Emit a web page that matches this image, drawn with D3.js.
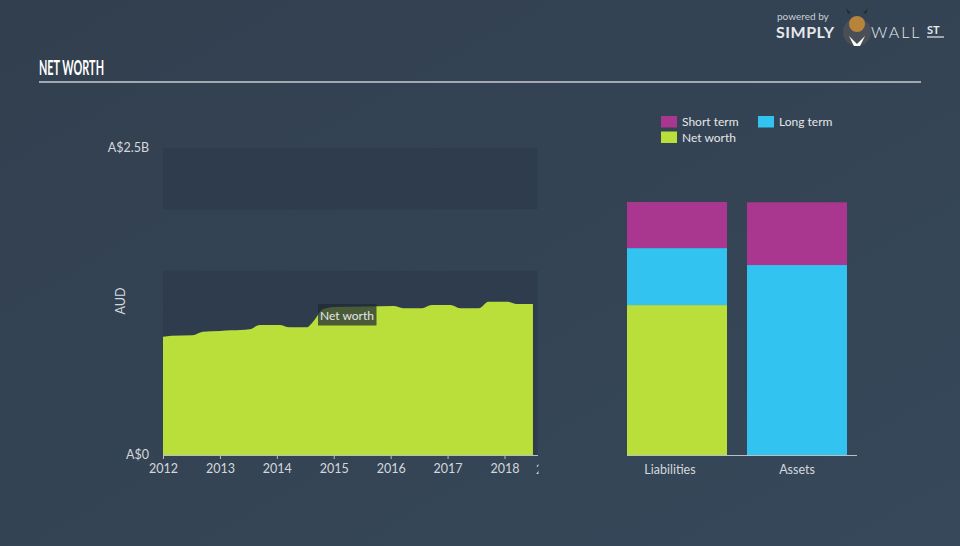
<!DOCTYPE html>
<html><head><meta charset="utf-8">
<script src="https://cdn.jsdelivr.net/npm/d3@7/dist/d3.min.js"></script>
<style>
html,body{margin:0;padding:0;background:#344456;}
svg{display:block;}
text{font-family:"Lato","Open Sans",sans-serif;}
</style></head>
<body>
<script>
// ---------- DATA ----------
const title = "NET WORTH";
const years = [2012.00,2012.15,2012.52,2012.70,2013.00,2013.20,2013.52,2013.70,2014.05,2014.22,2014.52,2014.66,2014.80,2015.00,2015.60,2016.05,2016.22,2016.55,2016.72,2017.05,2017.22,2017.55,2017.72,2018.05,2018.22,2018.50];
const netWorth = [0.963,0.972,0.975,1.004,1.010,1.015,1.024,1.059,1.059,1.040,1.040,1.10,1.185,1.205,1.210,1.213,1.195,1.195,1.221,1.221,1.195,1.195,1.248,1.248,1.230,1.230]; // A$ billions
const xTickYears = [2012,2013,2014,2015,2016,2017,2018];
const yTickLabels = ["A$0","A$2.5B"];
const yTickValues = [0,2.5];
const bandRanges = [[0,1.5],[2.0,2.5]];
const barCategories = ["Liabilities","Assets"];
const seriesNames = ["Net worth","Long term","Short term"];
const liabilities = {"Net worth":1.221,"Long term":0.464,"Short term":0.375};
const assets = {"Net worth":0,"Long term":1.547,"Short term":0.511};
const legendItems = ["Short term","Long term","Net worth"];
const colors = {"Short term":"#a9378f","Long term":"#33c3f0","Net worth":"#bbdf3a"};

// ---------- SETUP ----------
const W=960,H=546;
const svg=d3.select("body").append("svg").attr("width",W).attr("height",H);
const defs=svg.append("defs");
const grad=defs.append("linearGradient").attr("id","bg").attr("x1","0").attr("y1","0").attr("x2","1").attr("y2","1");
grad.append("stop").attr("offset","0").attr("stop-color","#323f4f");
grad.append("stop").attr("offset","1").attr("stop-color","#36485a");
svg.append("rect").attr("width",W).attr("height",H).attr("fill","url(#bg)");

// title
svg.append("text").attr("x",39).attr("y",75).text(title)
  .attr("font-family","'Liberation Sans Narrow','DejaVu Sans Condensed',sans-serif")
  .attr("font-weight","bold").attr("font-size",21).attr("fill","#ffffff")
  .attr("textLength",65).attr("lengthAdjust","spacingAndGlyphs");
svg.append("line").attr("x1",39).attr("x2",921).attr("y1",82).attr("y2",82)
  .attr("stroke","#a3a9b1").attr("stroke-width",2);

// logo
const logo=svg.append("g");
logo.append("text").attr("x",777).attr("y",20).text("powered by").attr("font-size",10).attr("fill","#c9ced4");
logo.append("text").attr("x",776).attr("y",38).text("SIMPLY").attr("font-size",16).attr("font-weight","bold").attr("fill","#e6e8eb").attr("letter-spacing",0.5);
logo.append("circle").attr("cx",857).attr("cy",32).attr("r",14).attr("fill","#4a4e55");
logo.append("circle").attr("cx",857).attr("cy",24).attr("r",8).attr("fill","#b8843c");
logo.append("path").attr("d","M848 14 L846 8 L851 13 Z M866 14 L868 8 L863 13 Z").attr("fill","#2a2a2a");
logo.append("path").attr("d","M849 36 L857 44 L865 36 L860 46 L854 46 Z").attr("fill","#ffffff");
logo.append("text").attr("x",871).attr("y",38).text("WALL").attr("font-size",16).attr("fill","#e6e8eb").attr("font-weight","300").attr("letter-spacing",2);
logo.append("text").attr("x",927).attr("y",34).text("ST").attr("font-size",11).attr("font-weight","bold").attr("fill","#e6e8eb");
logo.append("line").attr("x1",927).attr("x2",944).attr("y1",37).attr("y2",37).attr("stroke","#e6e8eb").attr("stroke-width",1.2);

// ---------- LEFT AREA CHART ----------
const x=d3.scaleLinear().domain([2012,2018.58]).range([163,537.5]);
const y=d3.scaleLinear().domain([0,2.5]).range([455,148]);

svg.append("g").selectAll("rect").data(bandRanges).join("rect")
  .attr("x",x(2012)).attr("width",x(2018.58)-x(2012))
  .attr("y",d=>y(d[1])).attr("height",d=>y(d[0])-y(d[1]))
  .attr("fill","#2e3c4d");

const pts=years.map((t,i)=>({t,v:netWorth[i]}));
const area=d3.area().x(d=>x(d.t)).y0(y(0)).y1(d=>y(d.v)).curve(d3.curveMonotoneX);
svg.append("path").datum(pts).attr("d",area).attr("fill",colors["Net worth"]);

// y labels
svg.append("g").selectAll("text").data(yTickValues).join("text")
  .attr("x",149).attr("y",d=>y(d)+4).attr("text-anchor","end")
  .attr("font-size",12.5).attr("fill","#d4d8dc").text((d,i)=>yTickLabels[i]);
svg.append("text").attr("transform","translate(125,301) rotate(-90)")
  .attr("text-anchor","middle").attr("font-size",12.5).attr("fill","#d4d8dc").text("AUD");

// x axis
const xAxis=d3.axisBottom(x).tickValues(xTickYears).tickFormat(d3.format("d")).tickSize(4).tickSizeOuter(0);
const gx=svg.append("g").attr("transform",`translate(0,${y(0)})`).call(xAxis);
gx.select(".domain").attr("stroke","#b9bfc6");
gx.selectAll(".tick line").attr("stroke","#b9bfc6");
gx.selectAll(".tick text").attr("font-size",12.5).attr("fill","#d4d8dc").attr("dy","0.9em")
  .attr("font-family","'Lato','Open Sans',sans-serif");
// clipped next-year label at edge
defs.append("clipPath").attr("id","edgeclip").append("rect").attr("x",530).attr("y",455).attr("width",8.5).attr("height",30);
svg.append("g").attr("clip-path","url(#edgeclip)").append("text")
  .attr("x",x(2018.58)-1.5).attr("y",y(0)+19).attr("font-size",12.5).attr("fill","#d4d8dc").text("2019");

// tooltip label
const lbl=svg.append("g");
lbl.append("rect").attr("x",318).attr("y",304).attr("width",58.5).attr("height",21.5).attr("fill","#1f2a36").attr("opacity",0.72);
lbl.append("text").attr("x",347).attr("y",319.5).attr("text-anchor","middle").attr("font-size",12).attr("fill","#e4e6e8").text("Net worth");

// ---------- RIGHT STACKED BARS ----------
const xb=d3.scaleBand().domain(barCategories).range([627,847]).paddingInner(0.1667);
const barData=[liabilities,assets];
const stack=d3.stack().keys(seriesNames)(barData);
svg.append("g").selectAll("g").data(stack).join("g").attr("fill",s=>colors[s.key])
  .selectAll("rect").data((s)=>s.map((d,i)=>({d,cat:barCategories[i]}))).join("rect")
  .attr("x",o=>xb(o.cat)).attr("width",xb.bandwidth())
  .attr("y",o=>y(o.d[1])).attr("height",o=>y(o.d[0])-y(o.d[1]));

svg.append("line").attr("x1",627).attr("x2",857).attr("y1",y(0)+0.5).attr("y2",y(0)+0.5).attr("stroke","#b9bfc6");
svg.append("g").selectAll("text").data(barCategories).join("text")
  .attr("x",(d,i)=>xb(d)+xb.bandwidth()/2-(i===0?7:0)).attr("y",474).attr("text-anchor","middle")
  .attr("font-size",12.5).attr("fill","#d4d8dc").text(d=>d);

// legend
const legPos=[[661,116],[758,116],[661,131.5]];
const leg=svg.append("g").selectAll("g").data(legendItems).join("g")
  .attr("transform",(d,i)=>`translate(${legPos[i][0]},${legPos[i][1]})`);
leg.append("rect").attr("width",16).attr("height",11.5).attr("fill",d=>colors[d]);
leg.append("text").attr("x",21).attr("y",10).attr("font-size",12).attr("fill","#e4e6e8").text(d=>d);
</script>
</body></html>
